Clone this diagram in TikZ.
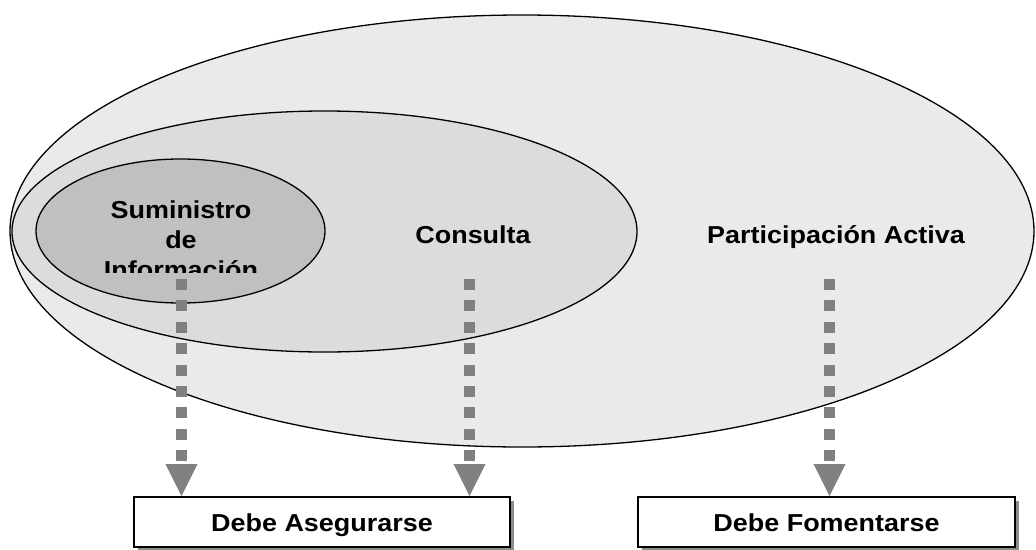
\documentclass[tikz,border=0pt]{standalone}
\usepackage{fontspec}
\setmainfont{Liberation Sans}
\newfontfamily\labfont[FakeStretch=1.1]{Liberation Sans}
\usetikzlibrary{shapes.geometric,arrows.meta,shadows}
\definecolor{outerfill}{HTML}{EAEAEA}
\definecolor{midfill}{HTML}{DCDCDC}
\definecolor{innerfill}{HTML}{C0C0C0}
\definecolor{arrowgray}{HTML}{808080}
\definecolor{shadowgray}{HTML}{8C8C8C}
\begin{document}
\begin{tikzpicture}[x=1pt,y=-1pt,
  zone/.style={ellipse, draw=black, line width=1.3pt, inner sep=0pt},
  lbl/.style={font=\labfont\bfseries\fontsize{24.5}{30}\selectfont, inner sep=0pt},
  outcome/.style={rectangle, draw=black, line width=2pt, fill=white,
    inner sep=0pt, minimum height=50pt, text height=18pt, text depth=0pt,
    font=\labfont\bfseries\fontsize{24.5}{30}\selectfont,
    general shadow={fill=shadowgray, shadow xshift=4pt, shadow yshift=-4pt}},
  flow/.style={draw=arrowgray, line width=11pt, line cap=butt,
    dash pattern=on 11pt off 10.375pt,
    -{Triangle[width=32pt,length=32pt,line width=0pt]}, arrowgray}]
\useasboundingbox (0,0) rectangle (1036,549);

% nested levels of involvement
\node[zone, fill=outerfill, minimum width=1024pt, minimum height=432pt] (activa) at (522,231) {};
\node[zone, fill=midfill, minimum width=625pt, minimum height=241pt] (consulta) at (324.5,231.5) {};
\node[zone, fill=innerfill, minimum width=289pt, minimum height=144pt] (suministro) at (180.5,231) {};

% level names
\begin{scope}
  \clip (0,0) rectangle (1036,272);
  \node[lbl, anchor=base] (tsum) at (181,218)
    {\begin{tabular}[t]{@{}c@{}}Suministro\\de\\Información\end{tabular}};
\end{scope}
\node[lbl, anchor=base] (tcons) at (473,243) {Consulta};
\node[lbl, anchor=base] (tpart) at (836,243) {Participación Activa};

% outcome boxes
\node[outcome, minimum width=376pt] (asegurar) at (322,522) {Debe Asegurarse};
\node[outcome, minimum width=377pt] (fomentar) at (826.5,522) {Debe Fomentarse};

% dotted arrows
\coordinate (s1) at (181.5,279);
\coordinate (s2) at (469.5,279);
\coordinate (s3) at (829.5,279);
\draw[flow] (s1) -- (s1 |- asegurar.north);
\draw[flow] (s2) -- (s2 |- asegurar.north);
\draw[flow] (s3) -- (s3 |- fomentar.north);
\end{tikzpicture}
\end{document}
